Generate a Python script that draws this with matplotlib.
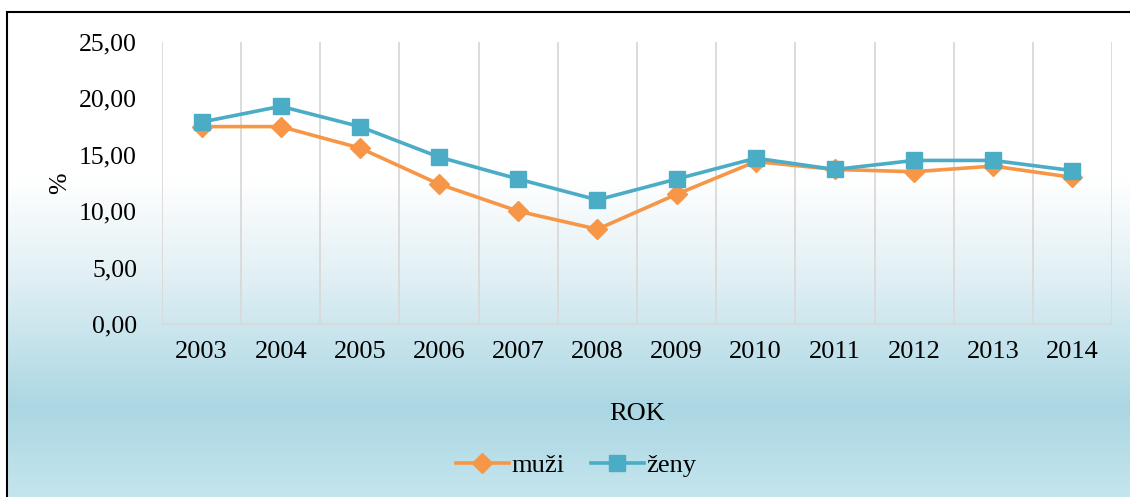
import matplotlib.pyplot as plt
import numpy as np
from matplotlib.colors import LinearSegmentedColormap
from matplotlib.patches import Rectangle

years = ["2003", "2004", "2005", "2006", "2007", "2008",
         "2009", "2010", "2011", "2012", "2013", "2014"]
muzi = [17.5, 17.5, 15.6, 12.4, 10.0, 8.4, 11.5, 14.4, 13.7, 13.5, 14.0, 13.0]
zeny = [17.9, 19.3, 17.5, 14.8, 12.85, 11.0, 12.85, 14.7, 13.7, 14.5, 14.5, 13.6]

plt.rcParams['font.family'] = ['Liberation Serif', 'DejaVu Serif']

fig = plt.figure(figsize=(11.3, 4.97), dpi=100)

# background gradient (white top -> light blue bottom)
bg = fig.add_axes([0, 0, 1, 1], zorder=-1)
cmap = LinearSegmentedColormap.from_list(
    "bg", [(0.0, "#ffffff"), (0.36, "#ffffff"), (0.55, "#e2f0f5"),
           (0.82, "#abd7e3"), (1.0, "#c4e5ed")])
grad = np.linspace(0, 1, 256).reshape(-1, 1)
bg.imshow(grad, cmap=cmap, aspect="auto", extent=[0, 1, 0, 1], origin="upper")
bg.set_xlim(0, 1)
bg.set_ylim(0, 1)
bg.axis("off")
# white margin top/left then black frame
bg.add_patch(Rectangle((0, 485 / 497), 1, 12 / 497, color="white", zorder=2))
bg.add_patch(Rectangle((0, 0), 7 / 1130, 1, color="white", zorder=2))
bg.add_patch(Rectangle((7 / 1130, -0.01), 1.0, 485 / 497 + 0.01, fill=False,
                       edgecolor="black", linewidth=1.5, zorder=3))

ax = fig.add_axes([162 / 1130, 173 / 497, 950 / 1130, 282 / 497])
ax.set_facecolor("none")

x = np.arange(len(years))
ax.plot(x, muzi, color="#F79646", linewidth=2.6, marker="D", markersize=10,
        label="muži", zorder=3)
ax.plot(x, zeny, color="#4BACC6", linewidth=2.6, marker="s", markersize=11.5,
        label="ženy", zorder=4)

ax.set_xlim(-0.5, len(years) - 0.5)
ax.set_ylim(0, 25)
ax.set_yticks(np.arange(0, 26, 5))
ax.set_yticklabels([f"{v:.2f}".replace(".", ",") for v in np.arange(0, 26, 5)])
ax.set_xticks(x)
ax.set_xticklabels(years)
ax.set_xticks(np.arange(-0.5, len(years), 1), minor=True)
ax.grid(which="minor", axis="x", color="#d9d9d9", linewidth=1.3)
ax.tick_params(which="both", length=0)
ax.tick_params(axis="y", labelsize=18.5, pad=18)
ax.tick_params(axis="x", labelsize=19, pad=12)

for s in ["top", "right", "left"]:
    ax.spines[s].set_visible(False)
ax.spines["bottom"].set_color("#d9d9d9")
ax.spines["bottom"].set_linewidth(1.3)

ax.set_ylabel("%", fontsize=18.5, labelpad=6)
ax.set_xlabel("ROK", fontsize=19, labelpad=29)

fig.legend(loc="center", bbox_to_anchor=(576 / 1130, 32 / 497), ncol=2,
           frameon=False, fontsize=19, handlelength=2.0, columnspacing=1.0,
           handletextpad=0.1)

fig.savefig("out.png", dpi=100)
